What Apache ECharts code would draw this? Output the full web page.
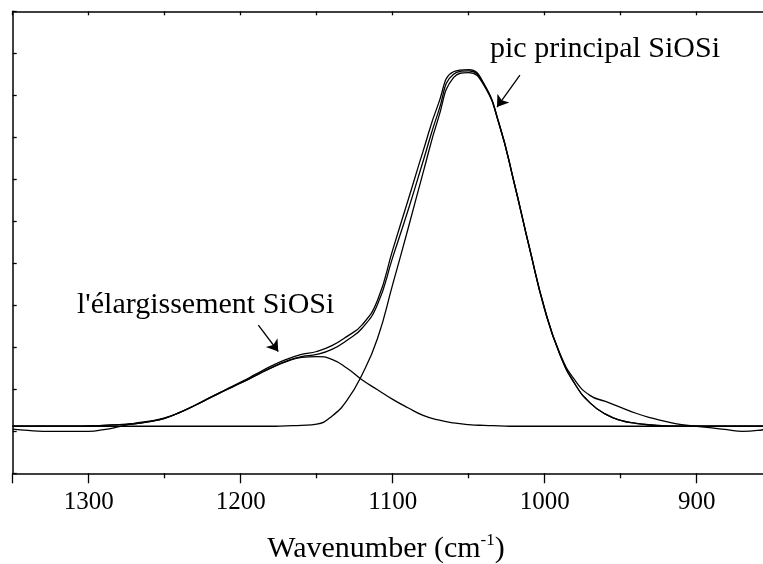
<!DOCTYPE html>
<html>
<head>
<meta charset="utf-8">
<script src="https://cdn.jsdelivr.net/npm/echarts/dist/echarts.min.js"></script>
<style>
  html, body { margin: 0; padding: 0; background: #fff; }
  #chart { width: 763px; height: 564px; }
</style>
</head>
<body>
<div id="chart"></div>
<script>
// Wavenumber grid (cm-1), shared by all curves
const wavenumbers = [1350, 1340, 1330, 1320, 1310, 1300, 1290, 1280, 1270, 1260,
  1250, 1240, 1230, 1220, 1210, 1200, 1190, 1180, 1170, 1160,
  1150, 1140, 1130, 1120, 1110, 1100, 1090, 1080, 1070, 1060,
  1050, 1040, 1030, 1020, 1010, 1000, 990, 980, 970, 960,
  950, 940, 930, 920, 910, 900, 890, 880, 870, 860, 850];

// Measured absorbance spectrum
const measured = [0.005, 0.002, 0.000, 0.000, 0.000, 0.000, 0.004, 0.011, 0.019, 0.024,
  0.032, 0.045, 0.062, 0.081, 0.099, 0.117, 0.136, 0.155, 0.171, 0.183,
  0.190, 0.204, 0.226, 0.254, 0.312, 0.432, 0.549, 0.667, 0.779, 0.856,
  0.861, 0.828, 0.733, 0.591, 0.437, 0.292, 0.185, 0.121, 0.085, 0.071,
  0.057, 0.043, 0.032, 0.023, 0.016, 0.012, 0.008, 0.004, 0.000, 0.002, 0.008];

// Fitted envelope (sum of the two components)
const fitted = [0.012, 0.012, 0.012, 0.012, 0.012, 0.013, 0.014, 0.016, 0.018, 0.023,
  0.031, 0.045, 0.062, 0.080, 0.098, 0.115, 0.133, 0.151, 0.167, 0.178,
  0.183, 0.195, 0.217, 0.246, 0.302, 0.414, 0.525, 0.643, 0.760, 0.850,
  0.858, 0.826, 0.732, 0.590, 0.436, 0.290, 0.183, 0.112, 0.067, 0.041,
  0.026, 0.019, 0.015, 0.013, 0.012, 0.012, 0.012, 0.012, 0.012, 0.012, 0.012];

// Main Si-O-Si stretching band
const mainPeak = [0.012, 0.012, 0.012, 0.012, 0.012, 0.012, 0.012, 0.012, 0.012, 0.012,
  0.012, 0.012, 0.012, 0.012, 0.012, 0.012, 0.012, 0.012, 0.013, 0.014,
  0.017, 0.036, 0.074, 0.136, 0.221, 0.350, 0.481, 0.616, 0.745, 0.842,
  0.854, 0.824, 0.731, 0.590, 0.436, 0.290, 0.183, 0.112, 0.067, 0.041,
  0.026, 0.019, 0.015, 0.013, 0.012, 0.012, 0.012, 0.012, 0.012, 0.012, 0.012];

// Broadening (shoulder) component
const shoulder = [0.012, 0.012, 0.012, 0.012, 0.012, 0.013, 0.014, 0.016, 0.018, 0.023,
  0.031, 0.045, 0.062, 0.080, 0.098, 0.115, 0.133, 0.151, 0.166, 0.176,
  0.178, 0.171, 0.150, 0.122, 0.099, 0.076, 0.056, 0.038, 0.027, 0.020,
  0.016, 0.014, 0.013, 0.012, 0.012, 0.012, 0.012, 0.012, 0.012, 0.012,
  0.012, 0.012, 0.012, 0.012, 0.012, 0.012, 0.012, 0.012, 0.012, 0.012, 0.012];

// Annotation arrows [from, to] in data coordinates
const arrowMain = [[1016.3, 0.848], [1031.4, 0.772]];
const arrowShoulder = [[1188.4, 0.253], [1175.3, 0.190]];

const serif = '"Liberation Serif", "Times New Roman", serif';
const pairs = arr => wavenumbers.map((w, i) => [w, arr[i]]);

const lineSeries = (name, arr, extra) => Object.assign({
  name: name,
  type: 'line',
  data: pairs(arr),
  showSymbol: false,
  smooth: 0.5,
  silent: true,
  lineStyle: { color: '#000', width: 1.3 }
}, extra || {});

const arrowLine = pts => ({
  silent: true,
  symbol: ['none', 'arrow'],
  symbolSize: 11,
  lineStyle: { color: '#000', width: 1.3, type: 'solid' },
  itemStyle: { color: '#000' },
  label: { show: false },
  data: [[{ coord: pts[0] }, { coord: pts[1] }]]
});

const chart = echarts.init(document.getElementById('chart'), null, { renderer: 'canvas' });

// Plot area runs past the right edge of the page (axis extends to 800 cm-1)
chart.setOption({
  animation: false,
  backgroundColor: '#fff',
  grid: {
    left: 12.7, top: 11.3, width: 836, height: 462,
    containLabel: false, outerBoundsMode: 'none'
  },
  xAxis: [
    {
      type: 'value', inverse: true, min: 800, max: 1350, interval: 100, position: 'bottom',
      axisLine: { show: true, onZero: false, lineStyle: { color: '#000', width: 1.5 } },
      axisTick: { show: true, inside: false, length: 10, lineStyle: { color: '#000', width: 1.3 } },
      minorTick: { show: true, splitNumber: 2, length: 5, lineStyle: { color: '#000', width: 1.3 } },
      splitLine: { show: false },
      minorSplitLine: { show: false },
      axisLabel: {
        fontFamily: serif, fontSize: 25, color: '#000', margin: 17,
        formatter: v => (v % 100 === 0 && v < 1350) ? String(v) : ''
      }
    },
    {
      type: 'value', inverse: true, min: 800, max: 1350, interval: 50, position: 'top',
      axisLine: { show: true, onZero: false, lineStyle: { color: '#000', width: 1.5 } },
      axisTick: { show: true, inside: true, length: 4, lineStyle: { color: '#000', width: 1.3 } },
      splitLine: { show: false },
      axisLabel: { show: false }
    }
  ],
  yAxis: {
    type: 'value', min: -0.1, max: 1.0, interval: 0.1,
    axisLine: { show: true, onZero: false, lineStyle: { color: '#000', width: 1.5 } },
    axisTick: { show: true, inside: true, length: 4, lineStyle: { color: '#000', width: 1.3 } },
    splitLine: { show: false },
    axisLabel: { show: false }
  },
  series: [
    lineSeries('mesuré', measured),
    lineSeries('ajustement', fitted),
    lineSeries('pic principal', mainPeak, { markLine: arrowLine(arrowMain) }),
    lineSeries('élargissement', shoulder, { markLine: arrowLine(arrowShoulder) })
  ],
  graphic: [
    {
      type: 'text', x: 490, y: 49.5, silent: true,
      style: { text: 'pic principal SiOSi', font: '30px ' + serif, fill: '#000', align: 'left', verticalAlign: 'middle' }
    },
    {
      type: 'text', x: 77, y: 305.5, silent: true,
      style: { text: "l'élargissement SiOSi", font: '30px ' + serif, fill: '#000', align: 'left', verticalAlign: 'middle' }
    },
    {
      // x-axis title, centred under the visible part of the axis
      type: 'text', x: 386, y: 549, silent: true,
      style: {
        text: 'Wavenumber (cm{sup|-1})',
        fontFamily: serif, fontSize: 30, fill: '#000', lineHeight: 34,
        align: 'center', verticalAlign: 'middle',
        rich: { sup: { fontFamily: serif, fontSize: 17, fill: '#000', lineHeight: 17, verticalAlign: 'top' } }
      }
    }
  ]
});
</script>
</body>
</html>
